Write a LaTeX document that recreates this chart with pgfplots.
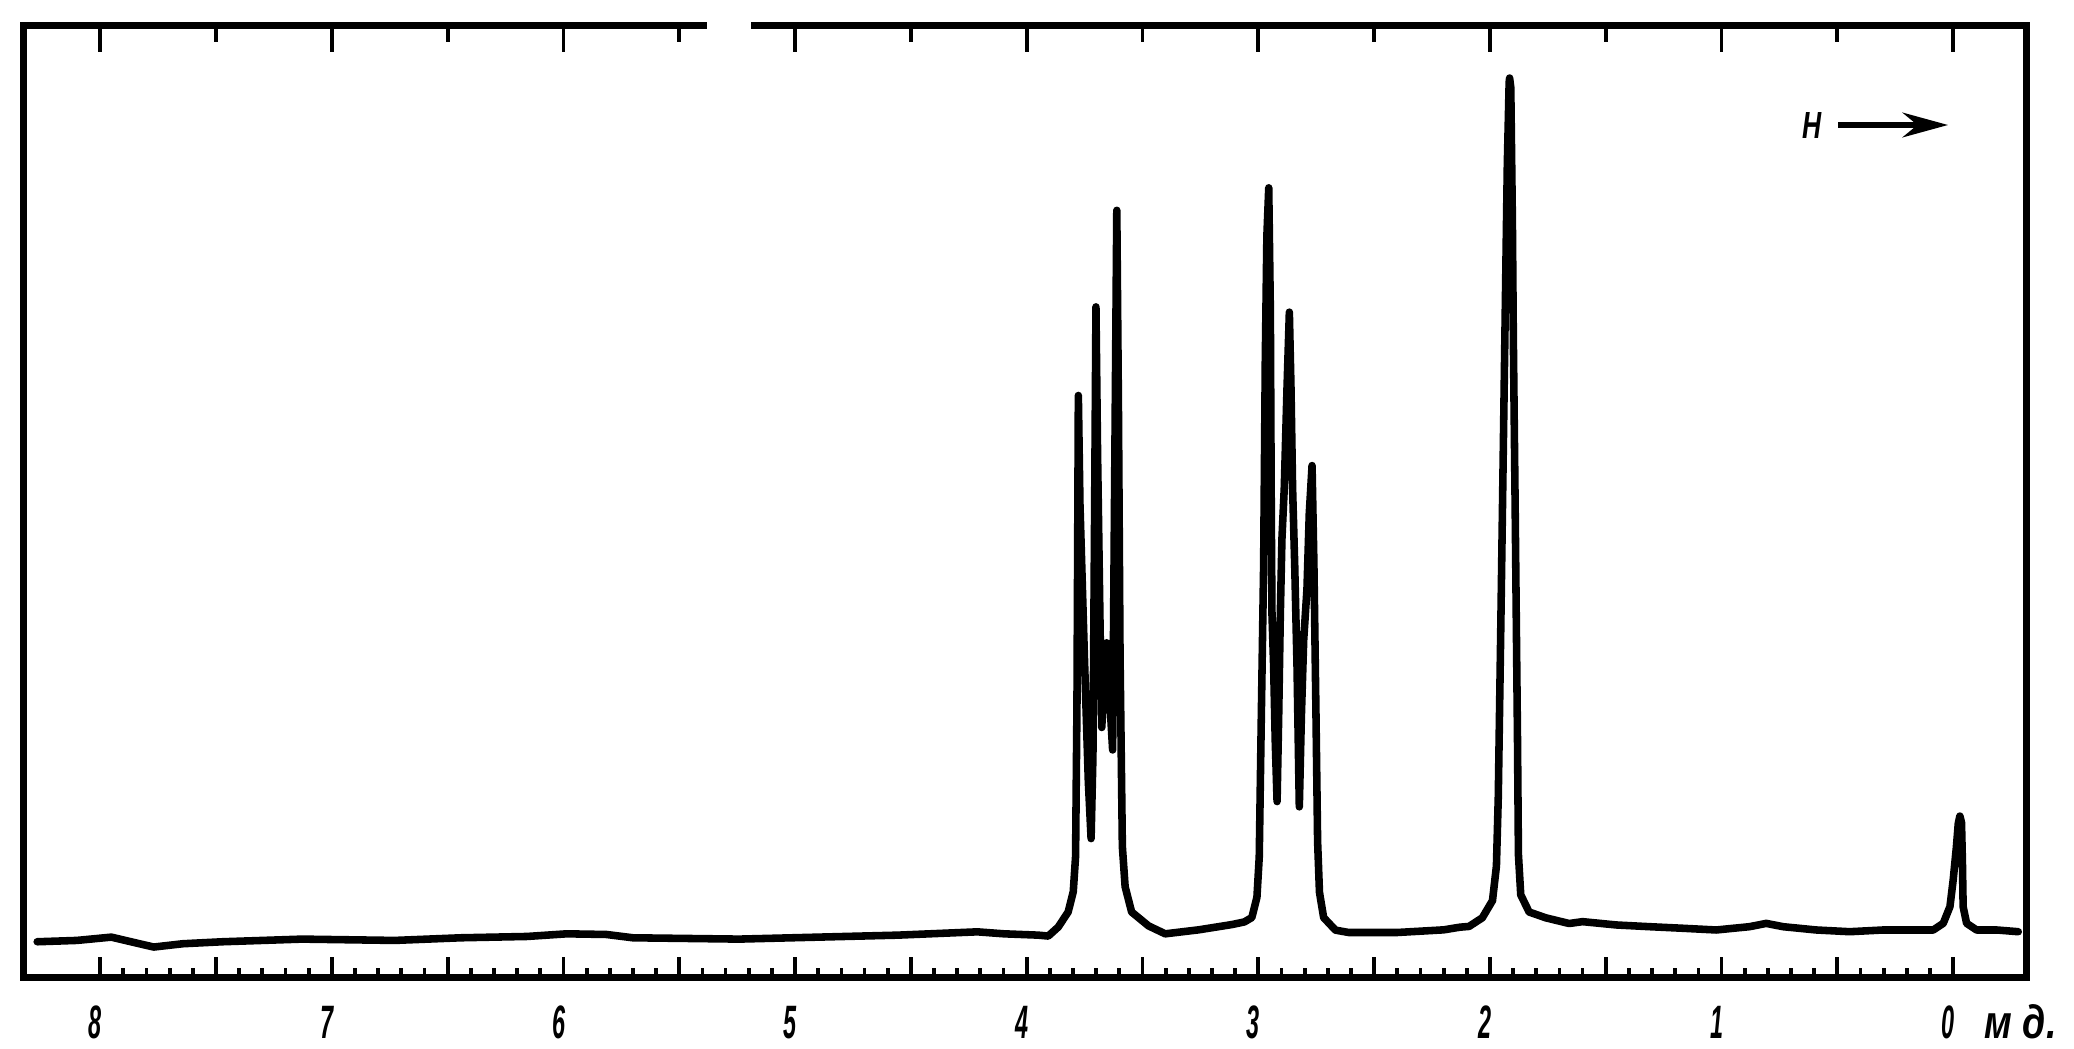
\documentclass[border=0pt]{standalone}
\usepackage{pgfplots}
\pgfplotsset{compat=1.18}
\usepackage{fontspec}
\setmainfont{Liberation Sans}
\usetikzlibrary{arrows.meta}
\newcommand\lab[1]{\scalebox{0.5}[1]{\fontsize{12.4pt}{12.4pt}\selectfont\bfseries\itshape #1}}
\begin{document}
\begin{tikzpicture}
\useasboundingbox (-6.3pt,-18.9pt) rectangle (542.5pt,258.65pt);
\begin{axis}[
  width=529.9pt, height=252pt, scale only axis,
  x dir=reverse, xmin=-0.316, xmax=8.330, ymin=3, ymax=723,
  clip=false,
  axis line style={line width=1.8pt},
  ytick=\empty,
  xtick pos=left, tick align=inside,
  xtick={0,1,2,3,4,5,6,7,8},
  xticklabels={\lab{0},\lab{1},\lab{2},\lab{3},\lab{4},\lab{5},\lab{6},\lab{7},\lab{8}},
  extra x ticks={0.5,1.5,2.5,3.5,4.5,5.5,6.5,7.5},
  extra x tick labels={},
  extra x tick style={major tick length=5.3pt},
  minor x tick num=9,
  major tick length=5.3pt, minor tick length=2.4pt,
  every tick/.style={black, line width=1pt},
  xticklabel style={anchor=base, yshift=-16.1pt, xshift=-1.3pt},
]
\addplot[black, line width=2.0pt, line join=round, line cap=round, no marks] table {
x y
8.272 30
8.101 31
7.952 33.5
7.843 29
7.769 26
7.643 28.5
7.472 30
7.129 32
6.729 31
6.443 33
6.157 34
5.986 36
5.814 35.5
5.700 33
5.242 32
5.013 33
4.556 35
4.213 37.5
4.098 36
3.950 35
3.907 34.3
3.864 41.1
3.821 52.5
3.799 67.8
3.789 94.4
3.783 208.5
3.777 443
3.770 360.6
3.751 246.5
3.734 151.4
3.722 108
3.714 170.4
3.708 322.6
3.701 510
3.694 398.6
3.683 265.5
3.676 192
3.665 227.5
3.655 256
3.640 208.5
3.629 175
3.621 360.6
3.611 583
3.604 436.7
3.597 246.5
3.587 102
3.575 71.6
3.547 52.5
3.474 42
3.402 36
3.258 39
3.114 43
3.060 45
3.028 48.3
3.006 63.6
2.996 94.1
2.987 201.1
2.977 315.6
2.970 468.3
2.963 563.8
2.955 600
2.948 506.5
2.944 353.8
2.941 277.4
2.934 239.2
2.927 182.0
2.919 136
2.912 201.1
2.905 277.4
2.898 334.7
2.888 372.9
2.876 449.2
2.866 506
2.859 449.2
2.852 372.9
2.843 315.6
2.833 239.2
2.823 132
2.814 201.1
2.804 258.3
2.790 296.5
2.780 353.8
2.768 390
2.760 315.6
2.751 201.1
2.744 105.6
2.736 67.4
2.718 48.3
2.667 38.8
2.610 37
2.400 37
2.200 39
2.130 41
2.090 41.6
2.033 48.1
1.989 61.1
1.972 87.2
1.964 139.4
1.953 269.7
1.946 356.6
1.939 443.5
1.932 530.4
1.925 617.3
1.917 680
1.915 683
1.910 676
1.903 573.9
1.899 487.0
1.891 356.6
1.886 269.7
1.881 182.8
1.877 95.9
1.867 65.5
1.831 52.5
1.759 48.1
1.658 43.8
1.600 45.2
1.455 42.7
1.312 41.4
1.168 40.2
1.023 38.9
0.879 41.4
0.807 43.9
0.735 41.4
0.591 38.9
0.447 37.6
0.302 38.9
0.158 38.9
0.086 38.9
0.043 43.9
0.014 56.5
0.000 76.7
-0.014 101.9
-0.022 119.5
-0.029 125
-0.036 120
-0.040 89.3
-0.043 56.5
-0.058 43.9
-0.101 38.9
-0.188 38.9
-0.281 37.6
};
\node[anchor=base west, inner sep=0pt] at (axis cs:-0.133,3) [yshift=-16.1pt] {\scalebox{0.8}[1]{\fontsize{12.4pt}{12.4pt}\selectfont\bfseries\itshape м д.}};
\node[anchor=base, inner sep=0pt] at (axis cs:0.611,637) {\scalebox{0.7}[1]{\fontsize{10pt}{10pt}\selectfont\bfseries\itshape H}};
\draw[line width=1.7pt, -{Stealth[length=12pt,width=6.5pt]}] (axis cs:0.496,647.5) -- (axis cs:0.022,647.5);
\coordinate (g1) at (axis cs:5.380,723);
\coordinate (g2) at (axis cs:5.190,723);
\end{axis}
\begin{axis}[
  width=529.9pt, height=252pt, scale only axis,
  x dir=reverse, xmin=-0.316, xmax=8.330, ymin=3, ymax=723,
  axis x line*=top, axis y line=none,
  axis line style={line width=1.8pt, -},
  tick align=inside,
  xtick={0,1,2,3,4,5,6,7,8}, xticklabels={},
  extra x ticks={0.5,1.5,2.5,3.5,4.5,5.5,6.5,7.5}, extra x tick labels={},
  major tick length=7pt,
  extra x tick style={major tick length=4.5pt},
  every tick/.style={black, line width=1pt},
  ytick=\empty,
]
\end{axis}
\draw[white, line width=2.4pt] (g1) -- (g2);
\end{tikzpicture}
\end{document}
